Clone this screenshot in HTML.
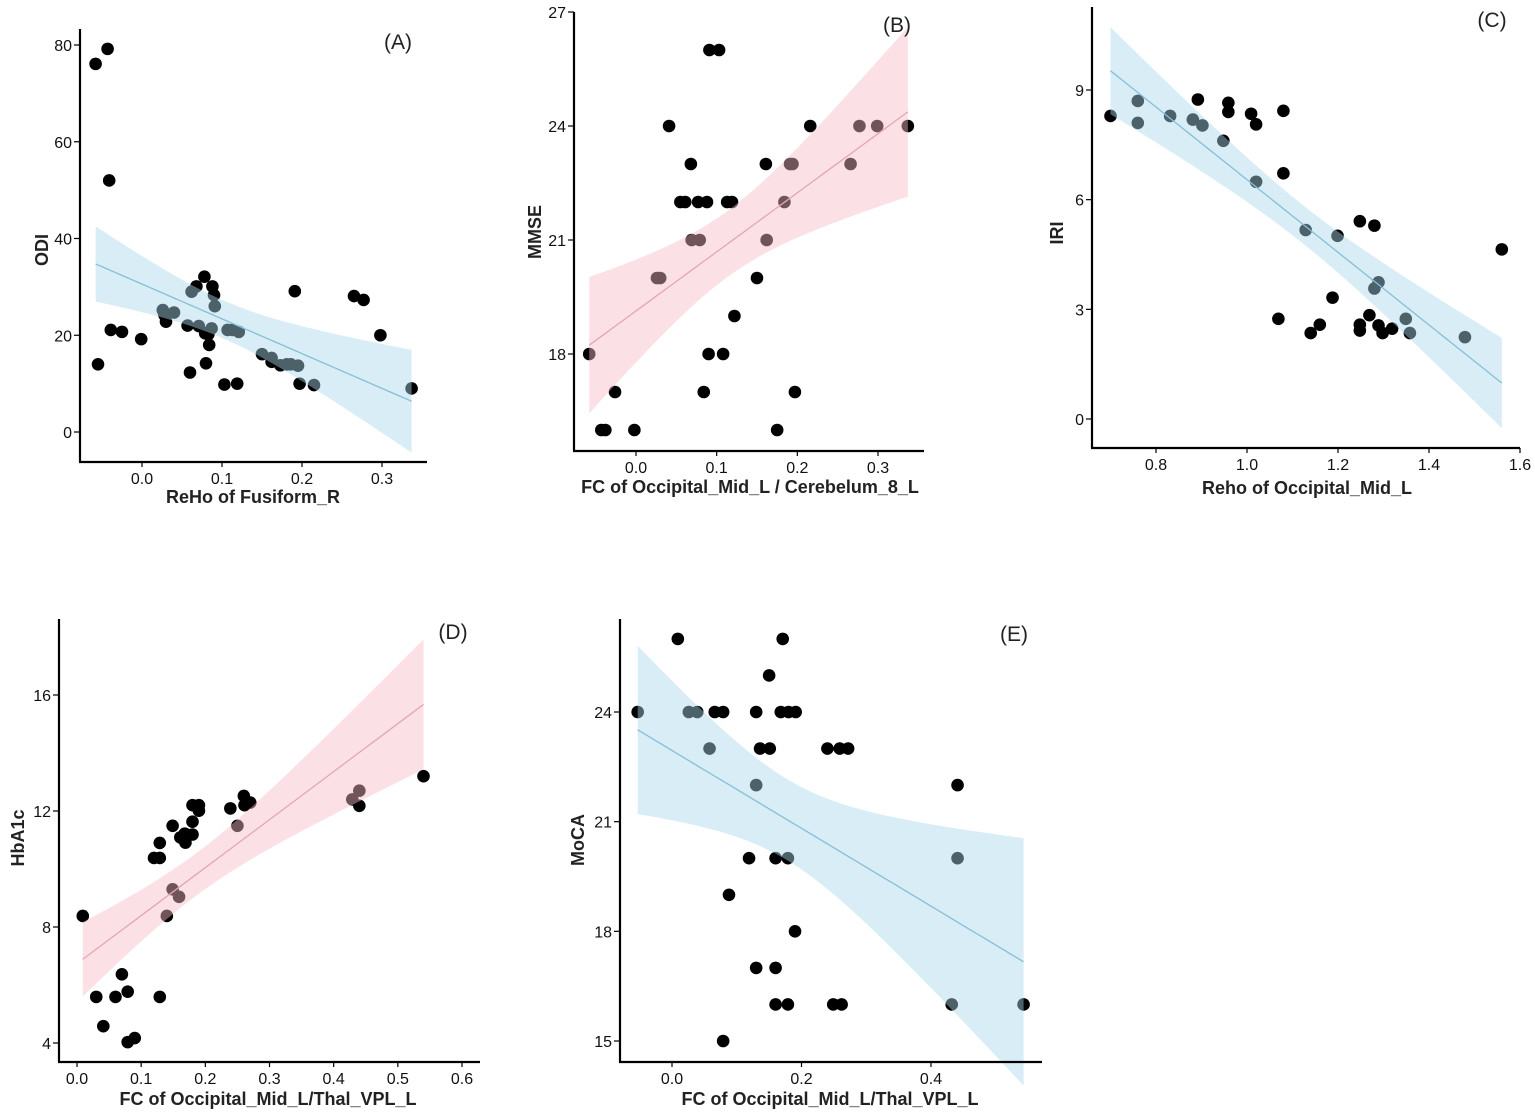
<!DOCTYPE html>
<html><head><meta charset="utf-8">
<style>
html,body{margin:0;padding:0;background:#fff;}
svg{display:block;font-family:"Liberation Sans",Arial,sans-serif;}
</style></head>
<body>
<svg id="fig" width="1535" height="1119" viewBox="0 0 1535 1119" xmlns="http://www.w3.org/2000/svg"></svg>
<script>
// Panel A
const aX=[-0.058,-0.043,-0.041,-0.055,-0.039,-0.025,-0.001,0.026,0.028,0.030,0.040,0.057,0.060,0.062,0.068,0.071,0.078,0.079,0.080,0.083,0.084,0.088,0.090,0.091,0.087,0.103,0.107,0.113,0.119,0.121,0.150,0.162,0.162,0.173,0.181,0.186,0.195,0.191,0.197,0.215,0.265,0.277,0.298,0.337];
const aY=[76.1,79.2,52.0,14.0,21.1,20.7,19.2,25.2,24.2,22.8,24.7,22.0,12.3,29.0,30.1,21.9,32.1,20.4,14.2,20.2,18.0,30.1,28.3,26.0,21.4,9.8,21.1,21.1,10.0,20.7,16.1,14.5,15.3,13.8,14.0,14.0,13.7,29.1,10.0,9.7,28.1,27.3,20.0,9.0];
const aXTicks=[0.0,0.1,0.2,0.3], aXTickLabels=["0.0","0.1","0.2","0.3"];
const aYTicks=[0,20,40,60,80], aYTickLabels=["0","20","40","60","80"];
// Panel B
const bX=[-0.058,-0.026,-0.043,-0.038,-0.002,0.026,0.030,0.041,0.068,0.055,0.061,0.069,0.079,0.077,0.088,0.091,0.103,0.090,0.084,0.108,0.113,0.119,0.122,0.150,0.161,0.162,0.175,0.184,0.191,0.194,0.197,0.216,0.266,0.277,0.299,0.337];
const bY=[18,17,16,16,16,20,20,24,23,22,22,21,21,22,22,26,26,18,17,18,22,22,19,20,23,21,16,22,23,23,17,24,23,24,24,24];
const bXTicks=[0.0,0.1,0.2,0.3], bXTickLabels=["0.0","0.1","0.2","0.3"];
const bYTicks=[18,21,24,27], bYTickLabels=["18","21","24","27"];
// Panel C
const cX=[0.700,0.760,0.760,0.831,0.881,0.892,0.902,0.948,0.959,0.959,1.009,1.020,1.020,1.080,1.080,1.069,1.129,1.140,1.160,1.188,1.199,1.248,1.248,1.248,1.269,1.280,1.280,1.289,1.289,1.298,1.319,1.349,1.358,1.479,1.560];
const cY=[8.29,8.70,8.10,8.29,8.19,8.74,8.03,7.61,8.65,8.40,8.35,8.06,6.49,8.43,6.72,2.74,5.17,2.35,2.58,3.32,5.01,5.41,2.58,2.42,2.84,5.29,3.57,3.74,2.56,2.35,2.47,2.74,2.35,2.24,4.64];
const cXTicks=[0.8,1.0,1.2,1.4,1.6], cXTickLabels=["0.8","1.0","1.2","1.4","1.6"];
const cYTicks=[0,3,6,9], cYTickLabels=["0","3","6","9"];
// Panel D
const dX=[0.009,0.030,0.041,0.060,0.070,0.079,0.079,0.090,0.120,0.129,0.129,0.129,0.140,0.149,0.149,0.159,0.161,0.168,0.169,0.180,0.180,0.180,0.190,0.190,0.239,0.250,0.260,0.261,0.270,0.429,0.440,0.440,0.540];
const dY=[8.38,5.59,4.58,5.59,6.37,5.77,4.03,4.17,10.38,10.38,10.90,5.59,8.38,11.49,9.30,9.04,11.09,11.22,10.91,12.20,11.63,11.19,12.20,12.01,12.09,11.49,12.52,12.20,12.29,12.40,12.70,12.18,13.20];
const dXTicks=[0.0,0.1,0.2,0.3,0.4,0.5,0.6], dXTickLabels=["0.0","0.1","0.2","0.3","0.4","0.5","0.6"];
const dYTicks=[4,8,12,16], dYTickLabels=["4","8","12","16"];
// Panel E
const eX=[-0.053,0.009,0.026,0.039,0.066,0.079,0.058,0.130,0.136,0.151,0.150,0.171,0.168,0.180,0.191,0.130,0.119,0.160,0.179,0.088,0.190,0.130,0.160,0.160,0.179,0.249,0.262,0.240,0.259,0.272,0.079,0.432,0.441,0.441,0.543];
const eY=[24,26,24,24,24,24,23,24,23,23,25,26,24,24,24,22,20,20,20,19,18,17,17,16,16,16,16,23,23,23,15,16,22,20,16];
const eXTicks=[0.0,0.2,0.4], eXTickLabels=["0.0","0.2","0.4"];
const eYTicks=[15,18,21,24], eYTickLabels=["15","18","21","24"];

const NS="http://www.w3.org/2000/svg";
const svg=document.getElementById('fig');
function mk(tag,attrs,parent){const e=document.createElementNS(NS,tag);for(const k in attrs)e.setAttribute(k,attrs[k]);(parent||svg).appendChild(e);return e;}

function panel(o){
  const g=mk('g',{});
  
  
  const sx=v=>o.px0+(v-o.vx0)*(o.px1-o.px0)/(o.vx1-o.vx0);
  const sy=v=>o.py0+(v-o.vy0)*(o.py1-o.py0)/(o.vy1-o.vy0);
  const pg=mk('g',{},g);
  
  
  o.xs.forEach((x,i)=>{
    const c=mk('circle',{cx:sx(x),cy:sy(o.ys[i]),r:6.3,fill:'#000'},pg);
    
    
  });
  const n=o.xs.length;
  const mx=o.xs.reduce((a,b)=>a+b,0)/n, my=o.ys.reduce((a,b)=>a+b,0)/n;
  let sxx=0,sxy=0;o.xs.forEach((x,i)=>{sxx+=(x-mx)**2;sxy+=(x-mx)*(o.ys[i]-my);});
  const b=sxy/sxx,a=my-b*mx;
  let sse=0;o.xs.forEach((x,i)=>{sse+=(o.ys[i]-a-b*x)**2;});
  const s=Math.sqrt(sse/(n-2)),t=2.03;
  const xmin=Math.min(...o.xs),xmax=Math.max(...o.xs);
  const up=[],lo=[],ln=[];
  for(let k=0;k<=60;k++){
    const x=xmin+(xmax-xmin)*k/60, f=a+b*x, se=s*Math.sqrt(1/n+(x-mx)**2/sxx);
    up.push(sx(x)+','+sy(f+t*se)); lo.unshift(sx(x)+','+sy(f-t*se)); ln.push(sx(x)+','+sy(f));
  }
  const band=mk('polygon',{points:up.concat(lo).join(' '),fill:o.band,'fill-opacity':0.45},g);
  
  
  const line=mk('polyline',{points:ln.join(' '),fill:'none',stroke:o.line,'stroke-width':1.3},g);
  
  
  const ya=mk('line',{x1:o.ax,y1:o.atop,x2:o.ax,y2:o.ay,stroke:'#000','stroke-width':2.2},g);
  
  
  const xa=mk('line',{x1:o.ax-1,y1:o.ay,x2:o.aright,y2:o.ay,stroke:'#000','stroke-width':2.2},g);
  
  
  o.xt.forEach((v,i)=>{
    mk('line',{x1:sx(v),y1:o.ay,x2:sx(v),y2:o.ay+5,stroke:'#000','stroke-width':1.2},g);
    const tx=mk('text',{x:sx(v),y:o.ay+22,'font-size':16,'text-anchor':'middle',fill:'#111'},g);
    tx.textContent=o.xtl[i];
    
    
  });
  o.yt.forEach((v,i)=>{
    mk('line',{x1:o.ax-6,y1:sy(v),x2:o.ax,y2:sy(v),stroke:'#000','stroke-width':1.2},g);
    const tx=mk('text',{x:o.ax-8,y:sy(v)+6,'font-size':16,'text-anchor':'end',fill:'#111'},g);
    tx.textContent=o.ytl[i];
    
    
  });
  const xt=mk('text',{x:o.xtx,y:o.xty,'font-size':18,'font-weight':'bold','text-anchor':'middle',fill:'#222'},g);
  xt.textContent=o.xtitle;
  
  
  const yt=mk('text',{x:0,y:0,'font-size':18,'font-weight':'bold','text-anchor':'middle',fill:'#222',transform:`translate(${o.ytx},${o.yty}) rotate(-90)`},g);
  yt.textContent=o.ytitle;
  
  
  const pl=mk('text',{x:o.lx,y:o.ly,'font-size':21,'text-anchor':'middle',fill:'#222'},g);
  pl.textContent=o.label;
  
  
}
const BLUE='#a9d6ea',BLINE='#86bfd6',PINK='#f6bcc6',PLINE='#e3a6b2';
panel({id:'a',xs:aX,ys:aY,xt:aXTicks,xtl:aXTickLabels,yt:aYTicks,ytl:aYTickLabels,
 px0:142,px1:382,vx0:0,vx1:0.3,py0:432,py1:45,vy0:0,vy1:80,ax:80,ay:462,atop:29,aright:427,
 band:BLUE,line:BLINE,xtitle:'ReHo of Fusiform_R',xtx:253,xty:503,ytitle:'ODI',ytx:48,yty:250,label:'(A)',lx:398,ly:49});
panel({id:'b',xs:bX,ys:bY,xt:bXTicks,xtl:bXTickLabels,yt:bYTicks,ytl:bYTickLabels,
 px0:636,px1:878,vx0:0,vx1:0.3,py0:354,py1:12,vy0:18,vy1:27,ax:574,ay:451,atop:12,aright:924,
 band:PINK,line:PLINE,xtitle:'FC of Occipital_Mid_L / Cerebelum_8_L',xtx:750,xty:493,ytitle:'MMSE',ytx:541,yty:232,label:'(B)',lx:897,ly:32});
panel({id:'c',xs:cX,ys:cY,xt:cXTicks,xtl:cXTickLabels,yt:cYTicks,ytl:cYTickLabels,
 px0:1156,px1:1520,vx0:0.8,vx1:1.6,py0:419,py1:90,vy0:0,vy1:9,ax:1092,ay:448,atop:7,aright:1520,
 band:BLUE,line:BLINE,xtitle:'Reho of Occipital_Mid_L',xtx:1307,xty:494,ytitle:'IRI',ytx:1063,yty:233,label:'(C)',lx:1492,ly:27});
panel({id:'d',xs:dX,ys:dY,xt:dXTicks,xtl:dXTickLabels,yt:dYTicks,ytl:dYTickLabels,
 px0:77,px1:462,vx0:0,vx1:0.6,py0:1043,py1:695,vy0:4,vy1:16,ax:59,ay:1062,atop:619,aright:480,
 band:PINK,line:PLINE,xtitle:'FC of Occipital_Mid_L/Thal_VPL_L',xtx:268,xty:1105,ytitle:'HbA1c',ytx:24,yty:838,label:'(D)',lx:453,ly:639});
panel({id:'e',xs:eX,ys:eY,xt:eXTicks,xtl:eXTickLabels,yt:eYTicks,ytl:eYTickLabels,
 px0:672,px1:931,vx0:0,vx1:0.4,py0:1041,py1:712,vy0:15,vy1:24,ax:620,ay:1062,atop:619,aright:1042,
 band:BLUE,line:BLINE,xtitle:'FC of Occipital_Mid_L/Thal_VPL_L',xtx:830,xty:1105,ytitle:'MoCA',ytx:584,yty:840,label:'(E)',lx:1014,ly:641});
</script>
</body></html>
